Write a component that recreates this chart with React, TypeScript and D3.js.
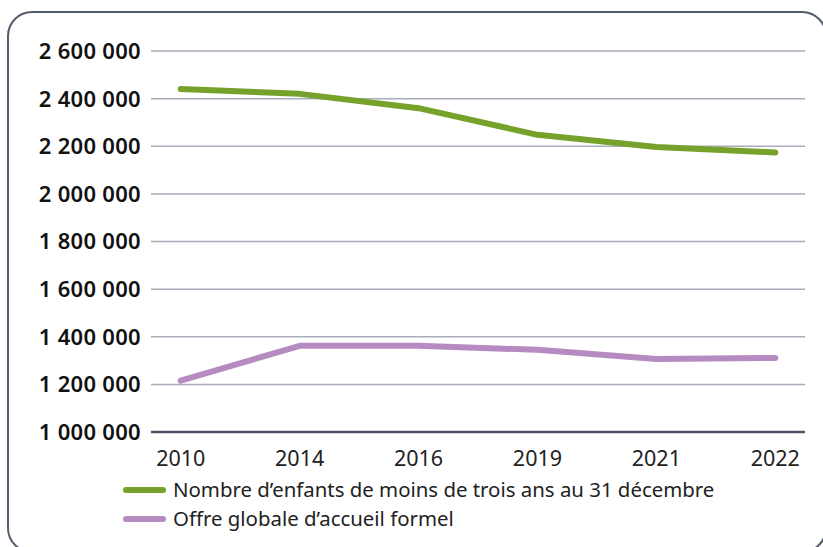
import React from "react";
import * as d3 from "d3";

const years = ["2010", "2014", "2016", "2019", "2021", "2022"];
const enfants = [2440000, 2420000, 2360000, 2248000, 2197000, 2174000];
const offre = [1216000, 1362000, 1362000, 1345000, 1307000, 1311000];
const yTicks = [1000000, 1200000, 1400000, 1600000, 1800000, 2000000, 2200000, 2400000, 2600000];
const legendLabels = ["Nombre d\u2019enfants de moins de trois ans au 31 d\u00e9cembre", "Offre globale d\u2019accueil formel"];

const W = 823, H = 547;
const FONT = "'Noto Sans', 'Open Sans', sans-serif";

export default function App() {
  const x = d3.scalePoint<string>().domain(years).range([151, 805]).padding(0.25);
  const y = d3.scaleLinear().domain([1000000, 2600000]).range([432, 51]);
  const fmt = (v: number) => d3.format(",")(v).replace(/,/g, " ");
  const line = d3.line<number>().x((_, i) => x(years[i])!).y(d => y(d));
  const series = [
    { values: enfants, color: "#76a12b", label: legendLabels[0] },
    { values: offre, color: "#b68bc1", label: legendLabels[1] },
  ];
  return (
    <svg width={W} height={H} style={{ position: "absolute", left: 0, top: 0, background: "#fff" }}>
      <rect x={8} y={12} width={818} height={540} rx={24} ry={24} fill="none" stroke="#545b6a" strokeWidth={2} />
      {yTicks.map(t => (
        <g key={t}>
          <line x1={151} x2={805} y1={y(t)} y2={y(t)}
            stroke={t === 1000000 ? "#4a5263" : "#a8adba"} strokeWidth={t === 1000000 ? 2.5 : 1.5} />
          <text x={141} y={y(t)} dy="0.36em" textAnchor="end" fontFamily={FONT} fontSize={22} fontWeight={600}
            letterSpacing={0.3} fill="#111">
            {fmt(t)}
          </text>
        </g>
      ))}
      {years.map(yr => (
        <text key={yr} x={x(yr)} y={466} textAnchor="middle" fontFamily={FONT} fontSize={21.5} fill="#222">{yr}</text>
      ))}
      {series.map(s => (
        <path key={s.label} d={line(s.values)!} fill="none" stroke={s.color} strokeWidth={6}
          strokeLinecap="round" strokeLinejoin="round" />
      ))}
      {series.map((s, i) => (
        <g key={"lg" + i} transform={`translate(0, ${490 + i * 29})`}>
          <line x1={126} x2={163} y1={0} y2={0} stroke={s.color} strokeWidth={6} strokeLinecap="round" />
          <text x={173} y={0} dy="0.35em" fontFamily={FONT} fontSize={20.4} fill="#222">{s.label}</text>
        </g>
      ))}
    </svg>
  );
}
